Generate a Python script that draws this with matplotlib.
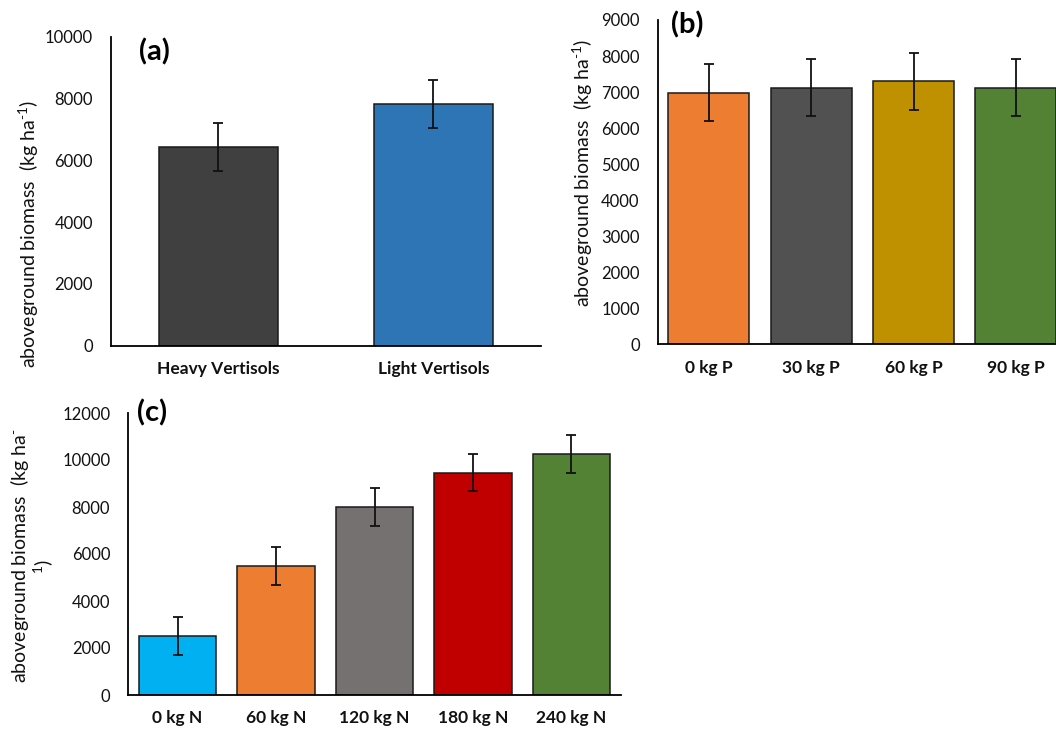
import matplotlib
matplotlib.use("Agg")
import matplotlib.pyplot as plt

plt.rcParams['font.family'] = ['Lato', 'DejaVu Sans']
plt.rcParams['mathtext.fontset'] = 'custom'
plt.rcParams['mathtext.rm'] = 'Lato'
plt.rcParams['mathtext.default'] = 'regular'

# Panel (a): soil type
soil_labels = ["Heavy Vertisols", "Light Vertisols"]
soil_values = [6440, 7830]
soil_errors = [780, 780]
soil_colors = ["#404040", "#2E75B6"]

# Panel (b): P rates
p_labels = ["0 kg P", "30 kg P", "60 kg P", "90 kg P"]
p_values = [6985, 7115, 7300, 7115]
p_errors = [785, 790, 790, 790]
p_colors = ["#ED7D31", "#515151", "#BF9000", "#548235"]

# Panel (c): N rates
n_labels = ["0 kg N", "60 kg N", "120 kg N", "180 kg N", "240 kg N"]
n_values = [2510, 5500, 8000, 9460, 10250]
n_errors = [790, 800, 800, 800, 800]
n_colors = ["#00B0F0", "#ED7D31", "#767171", "#C00000", "#548235"]

W, H = 1056, 731
fig = plt.figure(figsize=(W / 100, H / 100), dpi=100)


def rect(l, r, b, t):
    return [l / W, (H - b) / H, (r - l) / W, (b - t) / H]


def draw(ax, labels, values, errors, colors, width, ymax, ystep):
    x = list(range(len(labels)))
    ax.bar(x, values, width=width, color=colors, edgecolor="#1a1a1a",
           linewidth=1.1, zorder=2)
    ax.errorbar(x, values, yerr=errors, fmt="none", ecolor="#111111",
                elinewidth=1.3, capsize=3.6, capthick=1.3, zorder=3)
    ax.set_xlim(-0.5, len(labels) - 0.5)
    ax.set_ylim(0, ymax)
    ax.set_yticks(range(0, ymax + 1, ystep))
    ax.set_xticks(x)
    ax.set_xticklabels(labels, fontweight="bold", fontsize=12.5)
    for s in ["top", "right"]:
        ax.spines[s].set_visible(False)
    for s in ["left", "bottom"]:
        ax.spines[s].set_linewidth(1.3)
        ax.spines[s].set_color("black")
    ax.tick_params(axis="both", length=0, colors="#111111")
    ax.tick_params(axis="y", pad=13, labelsize=12)
    ax.tick_params(axis="x", pad=11)


ylabel = r"aboveground biomass  (kg ha$^{\text{-}1}$)"
YL = 14

ax_a = fig.add_axes(rect(111, 540.7, 345.7, 36.7))
draw(ax_a, soil_labels, soil_values, soil_errors, soil_colors, 0.553, 10000, 2000)
fig.text(29 / W, 1 - 234 / H, ylabel, rotation=90, ha="center", va="center",
         fontsize=YL, color="#111111")
fig.text(154 / W, 1 - 52 / H, "(a)", fontsize=21, fontweight="bold",
         ha="center", va="center")

ax_b = fig.add_axes(rect(657.7, 1067, 344.3, 20))
draw(ax_b, p_labels, p_values, p_errors, p_colors, 0.79, 9000, 1000)
fig.text(583 / W, 1 - 173 / H, ylabel, rotation=90, ha="center", va="center",
         fontsize=YL, color="#111111")
fig.text(687 / W, 1 - 25 / H, "(b)", fontsize=21, fontweight="bold",
         ha="center", va="center")

ax_c = fig.add_axes(rect(128.3, 620.7, 695, 413))
draw(ax_c, n_labels, n_values, n_errors, n_colors, 0.785, 12000, 2000)
fig.text(20 / W, 1 - 556 / H, r"aboveground biomass  (kg ha$^{\text{-}}$",
         rotation=90, ha="center", va="center", fontsize=YL, color="#111111")
fig.text(43 / W, 1 - 567 / H, "$^{1}$)", rotation=90, ha="center",
         va="center", fontsize=YL, color="#111111")
fig.text(152 / W, 1 - 413 / H, "(c)", fontsize=21, fontweight="bold",
         ha="center", va="center")

fig.savefig("out.png", dpi=100)
